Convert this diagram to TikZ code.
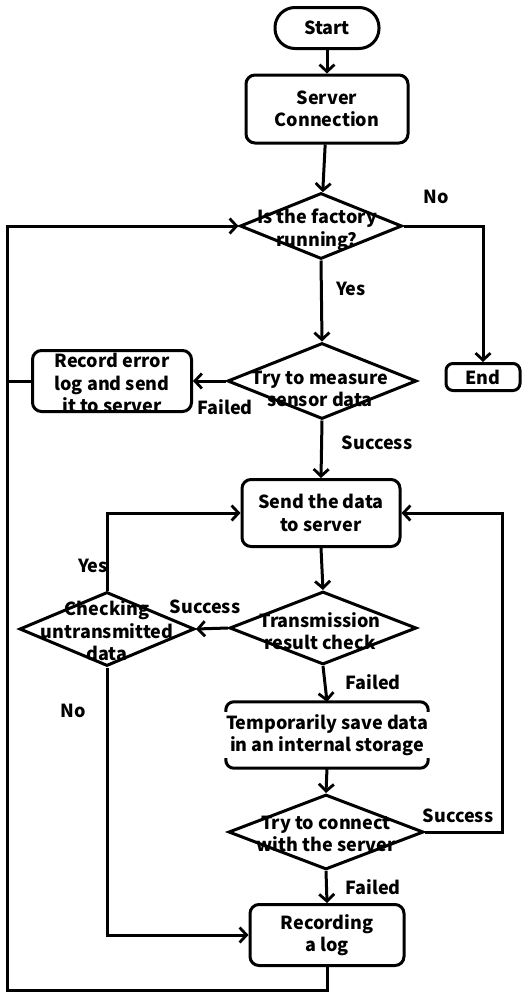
\documentclass[tikz,border=0pt]{standalone}
\usepackage{fontspec}
\setmainfont{Noto Sans CJK KR}
\usetikzlibrary{shapes.geometric,arrows.meta,calc}
\begin{document}
\begin{tikzpicture}[x=1pt,y=-1pt,
  every node/.style={font=\bfseries\fontsize{18}{22.5}\selectfont, align=center, inner sep=0pt},
  ln/.style={line width=3pt},
  arr/.style={ln, -{Straight Barb[length=7pt,width=15pt,line width=2.8pt]}},
  rbox/.style={draw, line width=3pt, rounded corners=9pt},
  dia/.style={draw, diamond, line width=3pt},
  lbl/.style={}]
\useasboundingbox (0,0) rectangle (532,993);
% nodes
\node[draw, line width=3pt, rounded corners=20pt, minimum width=104pt, minimum height=41pt] (start) at (327,28) {Start};
\node[rbox, minimum width=162pt, minimum height=68pt] (srv) at (327,109) {Server\\Connection};
\node[dia, minimum width=162pt, minimum height=66pt] (d1) at (321,226) {};
\node (d1t) at (317,230) {Is the factory\\running?};
\node[draw, line width=3pt, rounded corners=7pt, minimum width=74pt, minimum height=27pt] (end) at (483,377) {End};
\node[dia, minimum width=189pt, minimum height=76pt] (d2) at (322,381) {};
\node (d2t) at (320,389) {Try to measure\\sensor data};
\node[rbox, minimum width=159pt, minimum height=61pt] (err) at (112,381) {};
\node (errt) at (112,383) {Record error\\log and send\\it to server};
\node[rbox, minimum width=158pt, minimum height=67pt] (send) at (321,513) {Send the data\\to server};
\node[dia, minimum width=187pt, minimum height=73pt] (d4) at (323,628) {};
\node (d4t) at (320,631) {Transmission\\result check};
\node[dia, minimum width=175pt, minimum height=74pt] (chk) at (107,629) {};
\node (chkt) at (107,631) {Checking\\untransmitted\\data};
\node[minimum width=158pt, minimum height=66pt] (tmp) at (327,735) {Temporarily save data\\in an internal storage};
\node[dia, minimum width=195pt, minimum height=75pt] (d3) at (326,832) {};
\node (d3t) at (326,834) {Try to connect\\with the server};
\node[rbox, minimum width=154pt, minimum height=61pt] (rec) at (327,935) {Recording\\a log};
% temp storage shape
\draw[ln, rounded corners=8pt] ($(tmp.north west)+(0,10)$) |- (tmp.north) -| ($(tmp.north east)+(0,10)$);
\draw[ln, rounded corners=8pt] ($(tmp.south west)+(0,-10)$) |- (tmp.south) -| ($(tmp.south east)+(0,-10)$);
% coordinates
\coordinate (bl) at (7,990);
\coordinate (rr) at (502,0);
% connectors
\draw[arr] (start) -- (srv);
\draw[arr] (srv) -- (d1);
\draw[arr] (d1.east) -| (end.north);
\draw[arr] (d1.south) -- (d2.north);
\draw[arr] (d2.west) -- (err.east);
\draw[ln] (err.west) -- (err.west -| bl);
\draw[arr] (d2.south) -- (send.north);
\draw[arr] (send.south) -- (d4.north);
\draw[arr] (d4.west) -- (chk.east);
\draw[arr] (chk.north) |- (send.west);
\draw[arr] (chk.south) |- (rec.west);
\draw[arr] (d4.south) -- (tmp.north);
\draw[arr] (tmp.south) -- (d3.north);
\draw[arr] (d3.east) -- (d3.east -| rr) |- (send.east);
\draw[arr] (d3.south) -- (rec.north);
\draw[arr] (rec.south) |- (bl) |- (d1.west);
% labels
\node[lbl] (lno1) at (436,197) {No};
\node[lbl] (lyes1) at (351,289) {Yes};
\node[lbl] (lf1) at (225,407) {Failed};
\node[lbl] (ls1) at (377,443) {Success};
\node[lbl] (lyes2) at (93,566) {Yes};
\node[lbl] (ls2) at (205,607) {Success};
\node[lbl] (lf2) at (373,682) {Failed};
\node[lbl] (lno2) at (73,711) {No};
\node[lbl] (ls3) at (458,816) {Success};
\node[lbl] (lf3) at (373,887) {Failed};
\end{tikzpicture}
\end{document}
